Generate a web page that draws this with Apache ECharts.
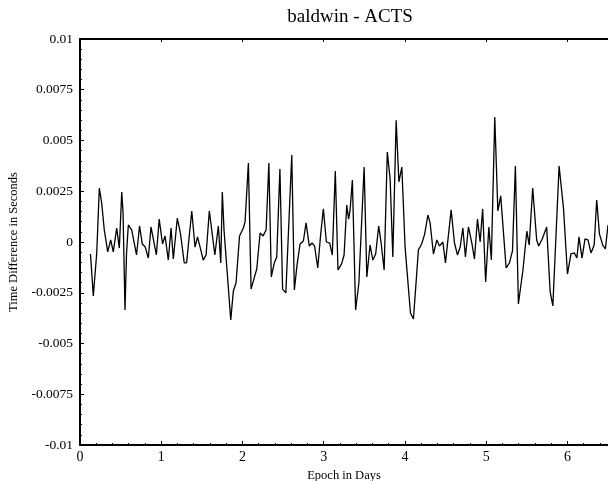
<!DOCTYPE html>
<html>
<head>
<meta charset="utf-8">
<script src="https://cdn.jsdelivr.net/npm/echarts@6/dist/echarts.min.js"></script>
<style>
  html, body { margin: 0; padding: 0; background: #fff; }
  #chart { width: 608px; height: 481px; }
</style>
</head>
<body>
<div id="chart"></div>
<script>
// epoch (days) and time difference (seconds)
const days = [
  0.129, 0.164, 0.206, 0.238, 0.267, 0.299, 0.341, 0.378, 0.410, 0.452,
  0.484, 0.514, 0.530, 0.554, 0.573, 0.595, 0.637, 0.696, 0.733, 0.767,
  0.803, 0.841, 0.874, 0.940, 0.975, 1.016, 1.047, 1.087, 1.121, 1.149,
  1.198, 1.238, 1.283, 1.312, 1.376, 1.416, 1.447, 1.518, 1.552, 1.592,
  1.660, 1.703, 1.733, 1.752, 1.773, 1.856, 1.888, 1.921, 1.964, 2.011,
  2.032, 2.073, 2.106, 2.145, 2.176, 2.217, 2.254, 2.291, 2.325, 2.355,
  2.392, 2.422, 2.461, 2.494, 2.534, 2.607, 2.639, 2.672, 2.709, 2.750,
  2.783, 2.823, 2.857, 2.888, 2.927, 2.962, 2.996, 3.033, 3.074, 3.106,
  3.143, 3.176, 3.220, 3.251, 3.284, 3.307, 3.325, 3.353, 3.393, 3.433,
  3.498, 3.531, 3.571, 3.605, 3.640, 3.677, 3.707, 3.744, 3.783, 3.818,
  3.851, 3.892, 3.926, 3.962, 4.002, 4.068, 4.105, 4.166, 4.206, 4.243,
  4.283, 4.310, 4.351, 4.393, 4.425, 4.467, 4.499, 4.569, 4.610, 4.647,
  4.680, 4.713, 4.745, 4.782, 4.824, 4.856, 4.893, 4.926, 4.957, 4.994,
  5.033, 5.064, 5.106, 5.144, 5.179, 5.246, 5.287, 5.324, 5.360, 5.397,
  5.453, 5.501, 5.530, 5.573, 5.622, 5.647, 5.690, 5.745, 5.788, 5.821,
  5.898, 5.952, 6.001, 6.044, 6.086, 6.117, 6.143, 6.180, 6.217, 6.253,
  6.291, 6.330, 6.361, 6.395, 6.435, 6.468, 6.500
];
const diffs = [
  -0.00059, -0.00266, -0.00054, 0.00266, 0.00192, 0.00059, -0.00049, 0.00010, -0.00049, 0.00069,
  -0.00030, 0.00246, 0.00143, -0.00335, -0.00054, 0.00084, 0.00059, -0.00064, 0.00079, -0.00010,
  -0.00025, -0.00079, 0.00074, -0.00064, 0.00113, -0.00010, 0.00030, -0.00089, 0.00069, -0.00084,
  0.00118, 0.00039, -0.00103, -0.00103, 0.00153, -0.00025, 0.00025, -0.00089, -0.00064, 0.00153,
  -0.00064, 0.00079, -0.00103, 0.00246, 0.00059, -0.00384, -0.00241, -0.00202, 0.00030, 0.00069,
  0.00099, 0.00389, -0.00232, -0.00177, -0.00133, 0.00044, 0.00030, 0.00059, 0.00389, -0.00172,
  -0.00103, -0.00074, 0.00360, -0.00232, -0.00251, 0.00429, -0.00236, -0.00113, -0.00010, 0.00005,
  0.00094, -0.00020, -0.00005, -0.00020, -0.00128, 0.00034, 0.00163, 0.00000, -0.00005, -0.00064,
  0.00350, -0.00138, -0.00108, -0.00064, 0.00182, 0.00113, 0.00158, 0.00305, -0.00335, -0.00202,
  0.00369, -0.00172, -0.00015, -0.00089, -0.00059, 0.00079, -0.00005, -0.00138, 0.00443, 0.00310,
  -0.00074, 0.00600, 0.00296, 0.00369, -0.00025, -0.00350, -0.00379, -0.00039, -0.00010, 0.00039,
  0.00133, 0.00094, -0.00059, 0.00010, -0.00020, 0.00000, -0.00103, 0.00158, -0.00005, -0.00064,
  -0.00025, 0.00069, -0.00074, 0.00074, -0.00005, -0.00084, 0.00113, 0.00000, 0.00163, -0.00197,
  0.00074, -0.00089, 0.00616, 0.00153, 0.00227, -0.00128, -0.00103, -0.00044, 0.00374, -0.00305,
  -0.00138, 0.00054, -0.00015, 0.00266, 0.00010, -0.00020, 0.00015, 0.00074, -0.00246, -0.00315,
  0.00374, 0.00167, -0.00158, -0.00059, -0.00054, -0.00079, 0.00025, -0.00079, 0.00015, 0.00010,
  -0.00054, -0.00015, 0.00207, 0.00039, -0.00015, -0.00034, 0.00084
];

const font = 'Liberation Serif';
const chart = echarts.init(document.getElementById('chart'));

const axisLine = { show: true, onZero: false, lineStyle: { color: '#000', width: 2 } };

chart.setOption({
  animation: false,
  title: {
    text: 'baldwin - ACTS',
    left: 345,
    textAlign: 'center',
    top: 3,
    textStyle: { fontFamily: font, fontSize: 19, fontWeight: 'normal', color: '#000' }
  },
  grid: { left: 80, right: 0, top: 39, bottom: 36, outerBoundsMode: 'none', containLabel: false },
  xAxis: [
    {
      type: 'value',
      min: 0,
      max: 6.5,
      interval: 1,
      name: 'Epoch in Days',
      nameLocation: 'middle',
      nameGap: 21,
      nameTextStyle: { fontFamily: font, fontSize: 12.5, color: '#000' },
      axisLine: axisLine,
      axisTick: { inside: true, length: 4, lineStyle: { color: '#000' } },
      minorTick: { show: true, splitNumber: 5, length: 2, lineStyle: { color: '#000' } },
      splitLine: { show: false },
      axisLabel: {
        fontFamily: font, fontSize: 14, color: '#000', margin: 5,
        showMaxLabel: false
      }
    },
    {
      type: 'value',
      position: 'top',
      min: 0,
      max: 6.5,
      interval: 1,
      axisLine: axisLine,
      axisTick: { inside: true, length: 3, lineStyle: { color: '#000' } },
      splitLine: { show: false },
      axisLabel: { show: false }
    }
  ],
  yAxis: {
    type: 'value',
    min: -0.01,
    max: 0.01,
    interval: 0.0025,
    name: 'Time Difference in Seconds',
    nameLocation: 'middle',
    nameGap: 60,
    nameTextStyle: { fontFamily: font, fontSize: 12.5, color: '#000' },
    axisLine: axisLine,
    axisTick: { inside: true, length: 4, lineStyle: { color: '#000' } },
    minorTick: { show: true, splitNumber: 5, length: 2, lineStyle: { color: '#000' } },
    splitLine: { show: false },
    axisLabel: {
      fontFamily: font, fontSize: 13.5, color: '#000', margin: 7,
      formatter: v => String(+v.toFixed(4))
    }
  },
  series: [{
    type: 'line',
    data: days.map((d, i) => [d, diffs[i]]),
    showSymbol: false,
    lineStyle: { color: '#000', width: 1.3 },
    clip: true
  }]
});
</script>
</body>
</html>
